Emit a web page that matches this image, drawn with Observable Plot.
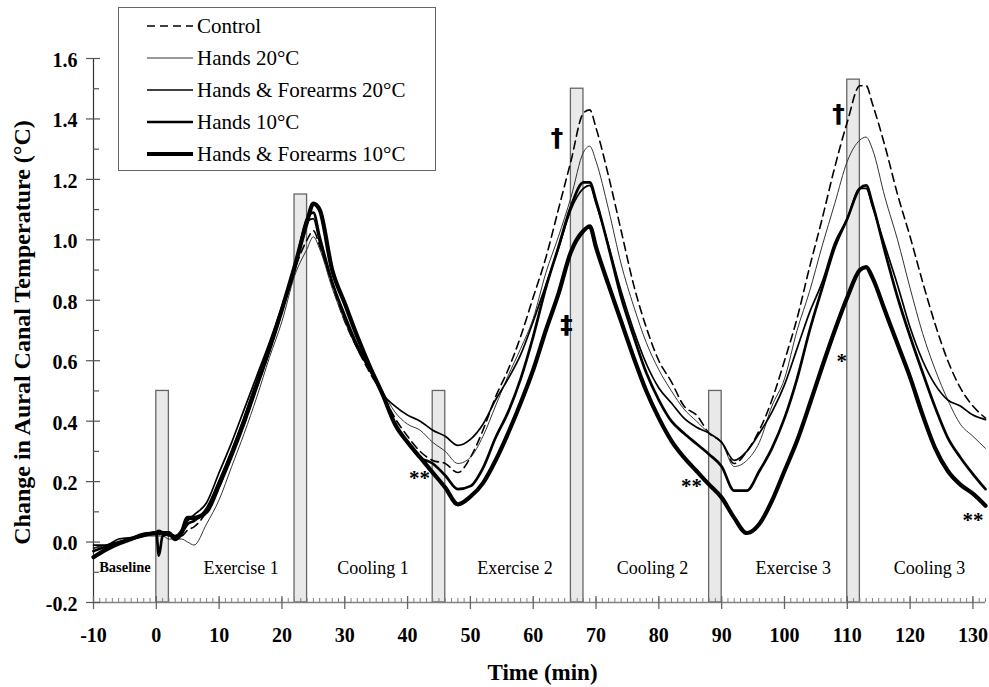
<!DOCTYPE html>
<html><head><meta charset="utf-8">
<script src="https://cdn.jsdelivr.net/npm/d3@7"></script>
<script src="https://cdn.jsdelivr.net/npm/@observablehq/plot@0.6"></script>
<style>
body{margin:0;background:#fff;}
#wrap{position:relative;width:989px;height:687px;font-family:"Liberation Serif","Times New Roman",serif;}
#legend{position:absolute;left:118px;top:7px;width:318px;height:164px;border:1px solid #666;background:#fff;box-sizing:border-box;}
.row{position:absolute;left:0;height:32px;display:flex;align-items:center;font-size:21px;color:#000;white-space:nowrap;}
.row svg{margin-left:28px;margin-right:4px;}
</style></head><body><div id="wrap"><div id="chart"></div><div id="legend"></div></div>
<script>
// ---- data ----
const time = [-10,-8,-6,-4,-2,0,0.4,1,2,3,4,5,6,
  8,10,12,14,16,18,20,22,24,25,
  26,28,30,32,34,36,38,40,42,44,46,
  48,50,52,54,56,58,60,62,64,66,68,69,
  70,72,74,76,78,80,82,84,86,88,90,
  92,94,96,98,100,102,104,106,108,110,112,113,
  114,116,118,120,122,124,126,128,130,132];

const control = [-0.02,-0.01,0.0,0.01,0.02,0.03,0.025,0.03,0.02,0.02,0.02,0.04,0.05,
  0.10,0.18,0.29,0.39,0.51,0.63,0.76,0.90,1.00,1.03,
  0.98,0.85,0.73,0.64,0.56,0.49,0.41,0.35,0.30,0.27,0.26,
  0.23,0.28,0.37,0.48,0.57,0.68,0.81,0.94,1.10,1.26,1.42,1.43,
  1.37,1.21,1.03,0.85,0.71,0.60,0.53,0.45,0.42,0.36,0.33,
  0.26,0.30,0.37,0.47,0.60,0.74,0.91,1.07,1.24,1.39,1.51,1.51,
  1.45,1.31,1.15,1.01,0.86,0.72,0.60,0.51,0.45,0.41];

const hands20 = [-0.02,-0.01,0.0,0.01,0.02,0.02,0.02,0.02,0.01,0.01,0.01,0.0,-0.01,
  0.06,0.14,0.25,0.36,0.48,0.61,0.73,0.88,0.97,1.01,
  0.97,0.84,0.73,0.64,0.57,0.50,0.43,0.39,0.37,0.33,0.30,
  0.26,0.28,0.35,0.45,0.55,0.64,0.74,0.89,1.01,1.14,1.29,1.31,
  1.26,1.10,0.92,0.78,0.66,0.57,0.50,0.44,0.40,0.36,0.33,
  0.25,0.27,0.33,0.45,0.54,0.70,0.83,0.98,1.12,1.26,1.33,1.34,
  1.30,1.14,1.00,0.84,0.69,0.57,0.47,0.39,0.35,0.31];

const handsForearms20 = [-0.01,-0.01,0.01,0.015,0.025,0.035,0.03,0.03,0.03,0.02,0.04,0.07,0.09,
  0.13,0.23,0.33,0.44,0.55,0.66,0.78,0.91,1.06,1.07,
  0.99,0.86,0.74,0.64,0.57,0.49,0.45,0.42,0.40,0.37,0.35,
  0.32,0.34,0.39,0.47,0.54,0.62,0.73,0.85,0.97,1.10,1.17,1.18,
  1.12,0.98,0.83,0.70,0.59,0.51,0.46,0.41,0.38,0.36,0.33,
  0.27,0.30,0.36,0.43,0.52,0.64,0.76,0.86,0.99,1.07,1.17,1.17,
  1.11,0.98,0.85,0.71,0.60,0.52,0.47,0.45,0.42,0.405];

const hands10 = [-0.03,-0.015,0.0,0.01,0.02,0.03,-0.045,0.02,0.025,0.02,0.03,0.06,0.07,
  0.11,0.20,0.30,0.41,0.53,0.64,0.77,0.90,1.07,1.09,
  1.01,0.86,0.75,0.65,0.57,0.49,0.39,0.33,0.28,0.26,0.22,
  0.175,0.185,0.245,0.345,0.43,0.54,0.68,0.84,0.975,1.11,1.19,1.19,
  1.13,0.975,0.81,0.68,0.56,0.47,0.40,0.36,0.325,0.29,0.25,
  0.17,0.17,0.235,0.31,0.41,0.54,0.70,0.84,0.975,1.07,1.17,1.18,
  1.12,0.96,0.81,0.68,0.56,0.445,0.345,0.28,0.225,0.175];

const handsForearms10 = [-0.05,-0.025,-0.005,0.01,0.025,0.03,0.035,0.03,0.03,0.01,0.03,0.08,0.08,
  0.10,0.19,0.29,0.40,0.52,0.64,0.77,0.91,1.06,1.12,
  1.10,0.90,0.79,0.68,0.58,0.49,0.39,0.33,0.28,0.23,0.18,
  0.125,0.15,0.195,0.27,0.36,0.46,0.57,0.70,0.82,0.96,1.03,1.045,
  0.975,0.85,0.73,0.61,0.50,0.41,0.335,0.28,0.235,0.19,0.147,
  0.08,0.03,0.06,0.136,0.235,0.335,0.455,0.58,0.70,0.81,0.90,0.91,
  0.875,0.765,0.655,0.545,0.42,0.31,0.235,0.19,0.16,0.12];

const seriesNames = ["Control","Hands 20°C","Hands & Forearms 20°C","Hands 10°C","Hands & Forearms 10°C"];
const seriesValues = [control, hands20, handsForearms20, hands10, handsForearms10];

// transition bars (min start, min end, top value)
const barStart = [0, 22, 44, 66, 88, 110];
const barEnd = [2, 24, 46, 68, 90, 112];
const barTop = [0.5, 1.15, 0.5, 1.5, 0.5, 1.53];

// phase labels
const phaseNames = ["Exercise 1","Cooling 1","Exercise 2","Cooling 2","Exercise 3","Cooling 3"];
const phaseCenters = [13.5, 34.5, 57.1, 79, 101.4, 123.1];
const baselineLabel = "Baseline";

// significance marks
const markText = ["†","‡","†","*","**","**","**"];
const markT = [63.8, 65.3, 108.6, 109.1, 41.9, 85.2, 130.0];
const markV = [1.336, 0.718, 1.417, 0.616, 0.227, 0.202, 0.089];

// axis ticks
const xTickLabels = [-10,0,10,20,30,40,50,60,70,80,90,100,110,120,130];
const yTickLabels = [-0.2,0.0,0.2,0.4,0.6,0.8,1.0,1.2,1.4,1.6];

// ---- build ----
for (const s of seriesValues) if (s.length !== time.length) throw new Error("length mismatch " + s.length + " vs " + time.length);

const styles = [
  {stroke: "#000", strokeWidth: 1.6, strokeDasharray: "8,5"},
  {stroke: "#333", strokeWidth: 1},
  {stroke: "#000", strokeWidth: 1.7},
  {stroke: "#000", strokeWidth: 2.7},
  {stroke: "#000", strokeWidth: 4.2}
];

const W = 989, H = 687, mL = 93, mR = 4, mT = 58, mB = 85;
const xDom = [-10, 132], yDom = [-0.2, 1.6];
const pxX = (W - mL - mR) / (xDom[1] - xDom[0]);
const pxY = (H - mT - mB) / (yDom[1] - yDom[0]);

const xMinor = d3.range(-10, 133, 1);
const yMinor = d3.range(-0.1, 1.6, 0.2).map(v => +v.toFixed(1));

const bars = barStart.map((s, i) => ({x1: s, x2: barEnd[i], top: barTop[i]}));
const marks_ = markText.map((m, i) => ({text: m, t: markT[i], v: markV[i]}));
const phases = phaseNames.map((p, i) => ({name: p, t: phaseCenters[i]}));

const lineMarks = seriesValues.map((vals, k) =>
  Plot.line(time.map((t, i) => ({t, v: vals[i]})), {
    x: "t", y: "v", curve: "monotone-x", strokeLinejoin: "round", strokeLinecap: "round", ...styles[k]
  })
);

const chart = Plot.plot({
  width: W, height: H,
  marginLeft: mL, marginRight: mR, marginTop: mT, marginBottom: mB,
  x: {domain: xDom, axis: null},
  y: {domain: yDom, axis: null},
  style: {fontFamily: '"Liberation Serif","Times New Roman",serif', fontSize: "20px", background: "white", color: "black"},
  marks: [
    Plot.rect(bars, {x1: "x1", x2: "x2", y1: yDom[0], y2: "top", fill: "#e9e9e9", stroke: "#666", strokeWidth: 1.3}),
    // axis lines
    Plot.ruleY([yDom[0]], {stroke: "#808080", strokeWidth: 1.3}),
    Plot.ruleX([xDom[0]], {y1: yDom[0], y2: yDom[1], stroke: "#333", strokeWidth: 1.2}),
    // x ticks
    Plot.ruleX(xMinor, {x: d => d, y1: yDom[0], y2: yDom[0] + 4 / pxY, stroke: "#808080", strokeWidth: 1}),
    Plot.ruleX(xTickLabels, {x: d => d, y1: yDom[0] - 7 / pxY, y2: yDom[0] + 6 / pxY, stroke: "#666", strokeWidth: 1.3}),
    // y ticks
    Plot.ruleY(yTickLabels, {y: d => d, x1: xDom[0] - 7 / pxX, x2: xDom[0] + 7 / pxX, stroke: "#555", strokeWidth: 1.2}),
    Plot.ruleY(yMinor, {y: d => d, x1: xDom[0], x2: xDom[0] + 6 / pxX, stroke: "#555", strokeWidth: 1.2}),
    // tick labels
    Plot.text(xTickLabels, {x: d => d, text: d => String(d), frameAnchor: "bottom", dy: 33, lineAnchor: "middle", textAnchor: "middle", fontWeight: "bold", fontSize: 20}),
    Plot.text(yTickLabels, {y: d => d, text: d => d.toFixed(1), frameAnchor: "left", dx: -16, dy: 2, textAnchor: "end", lineAnchor: "middle", fontWeight: "bold", fontSize: 20}),
    // axis titles
    Plot.text(["Time (min)"], {text: d => d, frameAnchor: "bottom", dy: 70, dx: 3, lineAnchor: "middle", textAnchor: "middle", fontWeight: "bold", fontSize: 23}),
    Plot.text(["Change in Aural Canal Temperature (°C)"], {text: d => d, frameAnchor: "left", dx: -71, dy: 2, rotate: -90, textAnchor: "middle", lineAnchor: "middle", fontWeight: "bold", fontSize: 24}),
    // data lines
    ...lineMarks,
    // phase labels
    Plot.text(phases, {x: "t", y: -0.086, text: "name", fontSize: 18}),
    Plot.text([baselineLabel], {x: -5, y: -0.084, text: d => d, fontSize: 14.5, fontWeight: "bold"}),
    // significance marks
    Plot.text(marks_.filter(d => d.text.includes("*")), {x: "t", y: "v", text: "text", fontWeight: "bold", fontSize: 21, dy: 5}),
    Plot.text(marks_.filter(d => !d.text.includes("*")), {x: "t", y: "v", text: "text", fontWeight: "bold", fontSize: 25, fontFamily: '"DejaVu Sans", sans-serif', dy: 0})
  ]
});
document.getElementById("chart").appendChild(chart);

// ---- legend (HTML overlay) ----
const legend = document.getElementById("legend");
seriesNames.forEach((name, k) => {
  const row = document.createElement("div");
  row.className = "row";
  row.style.top = (2 + k * 32) + "px";
  const st = styles[k];
  row.innerHTML = `<svg width="46" height="10"><line x1="0" y1="5" x2="46" y2="5" stroke="${st.stroke}" stroke-width="${st.strokeWidth}" ${st.strokeDasharray ? `stroke-dasharray="${st.strokeDasharray}"` : ""}/></svg><span>${name}</span>`;
  legend.appendChild(row);
});
</script></body></html>
